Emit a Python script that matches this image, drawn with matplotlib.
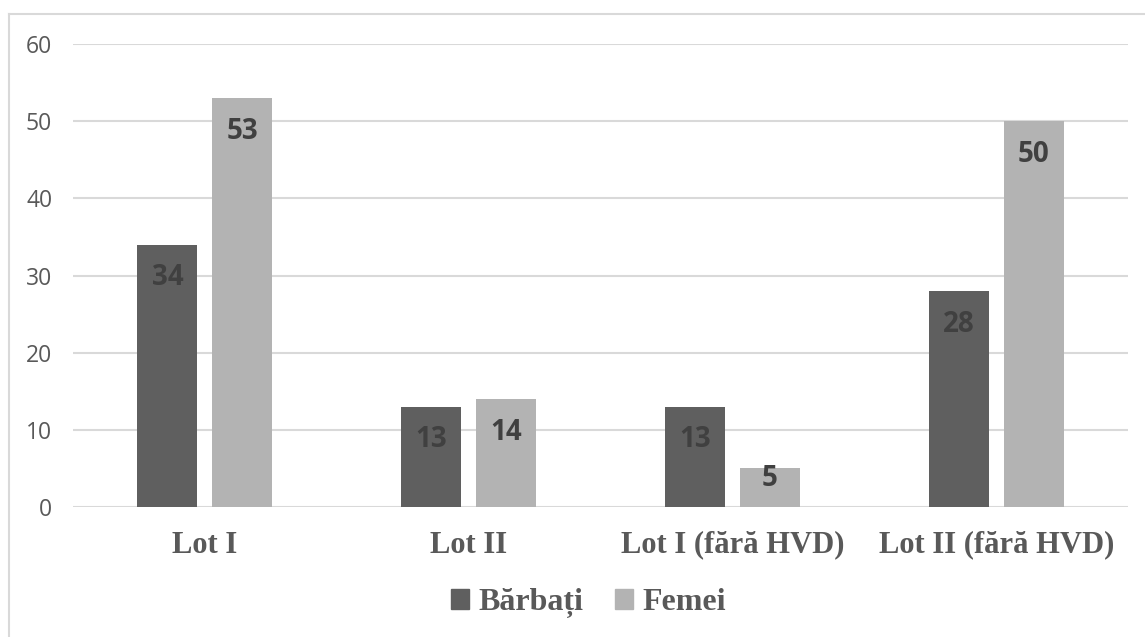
import matplotlib
matplotlib.use("Agg")
import matplotlib.pyplot as plt
import numpy as np
from matplotlib.lines import Line2D
from matplotlib.patches import Patch

# group labels and counts per sex
categories = ["Lot I", "Lot II", "Lot I (fără HVD)", "Lot II (fără HVD)"]
barbati = [34, 13, 13, 28]
femei = [53, 14, 5, 50]
series_names = ["Bărbați", "Femei"]
yticks = [0, 10, 20, 30, 40, 50, 60]

DARK = "#5f5f5f"
LIGHT = "#b3b3b3"
TEXT = "#595959"
LABEL = "#404040"
GRID = "#d9d9d9"

fig = plt.figure(figsize=(11.45, 6.37), dpi=100)
ax = fig.add_axes([0.0638, 0.2041, 0.9215, 0.7268])

x = np.arange(len(categories))
width = 0.2275
offset = 0.142

bars_m = ax.bar(x - offset, barbati, width, color=DARK, zorder=3)
bars_f = ax.bar(x + offset, femei, width, color=LIGHT, zorder=3)

# value labels sit just inside the top of each bar
for bars, vals in ((bars_m, barbati), (bars_f, femei)):
    for b, v in zip(bars, vals):
        ly = max(v - 4.3, 3.75)
        ax.text(b.get_x() + b.get_width() / 2, ly, str(v), ha="center", va="center",
                fontsize=20, fontweight="bold", color=LABEL, family="Open Sans", zorder=4)

ax.set_xlim(-0.5, 3.5)
ax.set_ylim(0, 60)
ax.set_yticks(yticks)
ax.set_yticklabels([str(t) for t in yticks], fontsize=16.5, color=TEXT, family="Open Sans")
ax.tick_params(axis="y", length=0, pad=15)
ax.set_xticks(x)
ax.set_xticklabels(categories, fontsize=22, fontweight="bold", color=TEXT,
                   family="Liberation Serif")
ax.tick_params(axis="x", length=0, pad=17)

ax.grid(axis="y", color=GRID, linewidth=1.5, zorder=0)
for s in ax.spines.values():
    s.set_visible(False)

handles = [Patch(color=DARK), Patch(color=LIGHT)]
fig.legend(handles, series_names, loc="center", bbox_to_anchor=(0.514, 0.053), ncol=2,
           frameon=False, prop={"family": "Liberation Serif", "weight": "bold", "size": 23},
           labelcolor=TEXT, handlelength=0.55, handleheight=0.55, handletextpad=0.3,
           columnspacing=1.0)

# chart frame (left and top edges)
fig.add_artist(Line2D([9 / 1145, 9 / 1145], [0, 1 - 14 / 637], color=GRID, lw=1.5))
fig.add_artist(Line2D([9 / 1145, 1], [1 - 14 / 637, 1 - 14 / 637], color=GRID, lw=1.5))

fig.savefig("out.png", dpi=100)
